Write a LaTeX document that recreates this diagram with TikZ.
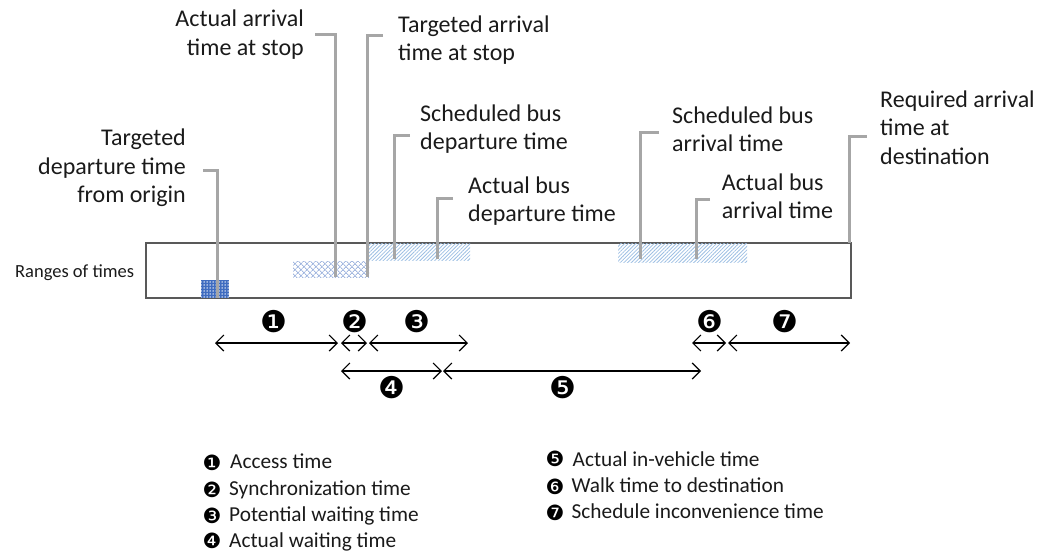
\documentclass[tikz,border=0pt]{standalone}
\usepackage{fontspec}
\setmainfont{Carlito}
\newfontfamily\dv{DejaVu Sans}
\usetikzlibrary{arrows.meta,patterns,patterns.meta}
\definecolor{txt}{HTML}{1A1A1A}
\definecolor{lead}{HTML}{A6A6A6}
\definecolor{frame}{HTML}{595959}
\definecolor{dkblue}{HTML}{3F6CC0}
\definecolor{ltblue}{HTML}{A3B8E0}
\definecolor{stripe}{HTML}{9DBFE3}
\begin{document}
\begin{tikzpicture}[x=1pt,y=-1pt,
  lbl/.style={font=\fontsize{24}{28.5}\selectfont, text=txt, inner sep=0pt},
  small/.style={font=\fontsize{18.5}{22}\selectfont, text=txt, inner sep=0pt},
  legtext/.style={font=\fontsize{21.3}{25}\selectfont, text=txt, inner sep=0pt, anchor=base west},
  leader/.style={draw=lead, line width=3pt},
  span/.style={draw=black, line width=1.2pt, {Straight Barb[length=8pt,width=16pt]}-{Straight Barb[length=8pt,width=16pt]}},
  num/.style={font=\dv\fontsize{30}{30}\selectfont, text=black, inner sep=0pt},
  legnum/.style={font=\dv\fontsize{21}{21}\selectfont, text=black, inner sep=0pt},
  region/.style={inner sep=0pt, outer sep=0pt, anchor=north west}
]
\useasboundingbox (0,0) rectangle (1055,552);

% timeline box
\node[draw=frame, line width=1.5pt, minimum width=705pt, minimum height=55pt, inner sep=0pt] (box) at (498.5,270.5) {};
\node[small, anchor=base west] (rangeslbl) at (15,277) {Ranges of times};

% ranges
\node[region, minimum width=28pt, minimum height=18pt, fill=dkblue,
      postaction={pattern={Dots[radius=0.75pt,distance=3pt]}, pattern color=white}] (rTD) at (201,280) {};
\node[region, minimum width=76pt, minimum height=16pt,
      pattern={Lines[angle=45,distance=4pt,line width=0.9pt]}, pattern color=ltblue,
      postaction={pattern={Lines[angle=-45,distance=4pt,line width=0.9pt]}, pattern color=ltblue}] (rAA) at (293,261) {};
\node[region, minimum width=101pt, minimum height=17pt,
      pattern={Lines[angle=45,distance=2.6pt,line width=0.8pt]}, pattern color=stripe] (rSD) at (369,243) {};
\node[region, minimum width=129pt, minimum height=19pt,
      pattern={Lines[angle=45,distance=2.6pt,line width=0.8pt]}, pattern color=stripe] (rSA) at (618,243) {};

% labels (anchored at the baseline of their last line)
\node[lbl, align=right, anchor=base east] (lTD) at (186,202.7) {Targeted\\departure time\\from origin};
\node[lbl, align=right, anchor=base east] (lAA) at (304,55.2) {Actual arrival\\time at stop};
\node[lbl, align=left, anchor=base west] (lTA) at (398,60.8) {Targeted arrival\\time at stop};
\node[lbl, align=left, anchor=base west] (lSD) at (420,149.5) {Scheduled bus\\departure time};
\node[lbl, align=left, anchor=base west] (lAD) at (468,221.5) {Actual bus\\departure time};
\node[lbl, align=left, anchor=base west] (lSA) at (672,151.5) {Scheduled bus\\arrival time};
\node[lbl, align=left, anchor=base west] (lAR) at (721.7,218.5) {Actual bus\\arrival time};
\node[lbl, align=left, anchor=base west] (lRA) at (880,164) {Required arrival\\time at\\destination};

% leader lines
\coordinate (hTD) at (203,170);  \coordinate (eTD) at (217,298);
\coordinate (hAA) at (315,34);   \coordinate (eAA) at (335,277);
\coordinate (hTA) at (383,35);   \coordinate (eTA) at (367,277);
\coordinate (hSD) at (410,135);  \coordinate (eSD) at (394,259);
\coordinate (hAD) at (453,198);  \coordinate (eAD) at (437,259);
\coordinate (hSA) at (659,132);  \coordinate (eSA) at (640,259);
\coordinate (hAR) at (710,199);  \coordinate (eAR) at (696,259);
\coordinate (hRA) at (867,136);  \coordinate (eRA) at (849,243);
\foreach \n in {TD,AA,TA,SD,AD,SA,AR,RA}
  \draw[leader] (h\n) -| (e\n);

% spans
\coordinate (a1) at (215,343);   \coordinate (a2) at (338,343);
\coordinate (b1) at (341,343);   \coordinate (b2) at (367,343);
\coordinate (c1) at (369,343);   \coordinate (c2) at (468,343);
\coordinate (f1) at (692,343);   \coordinate (f2) at (726,343);
\coordinate (g1) at (728,343);   \coordinate (g2) at (850,343);
\coordinate (d1) at (341,371);   \coordinate (d2) at (442,371);
\coordinate (e1) at (443,371);   \coordinate (e2) at (701,371);
\foreach \s in {a,b,c,d,e,f,g}
  \draw[span] (\s1) -- (\s2);

\node[num] (n1) at (274,322) {❶};
\node[num] (n2) at (355,322) {❷};
\node[num] (n3) at (417,322) {❸};
\node[num] (n4) at (392,388) {❹};
\node[num] (n5) at (563,388) {❺};
\node[num] (n6) at (710,322) {❻};
\node[num] (n7) at (785,322) {❼};

% legend
\node[legnum] (k1) at (212,462.7) {❶};
\node[legnum] (k2) at (212,489.5) {❷};
\node[legnum] (k3) at (212,516) {❸};
\node[legnum] (k4) at (212,540.5) {❹};
\node[legnum] (k5) at (555,459) {❺};
\node[legnum] (k6) at (555,486.7) {❻};
\node[legnum] (k7) at (555,512.7) {❼};
\node[legtext] (t1) at (230,468.3) {Access time};
\node[legtext] (t2) at (229,495) {Synchronization time};
\node[legtext] (t3) at (229,521.5) {Potential waiting time};
\node[legtext] (t4) at (229,547.5) {Actual waiting time};
\node[legtext] (t5) at (572.5,466) {Actual in-vehicle time};
\node[legtext] (t6) at (571.5,492.5) {Walk time to destination};
\node[legtext] (t7) at (571.5,518.7) {Schedule inconvenience time};
\end{tikzpicture}
\end{document}
